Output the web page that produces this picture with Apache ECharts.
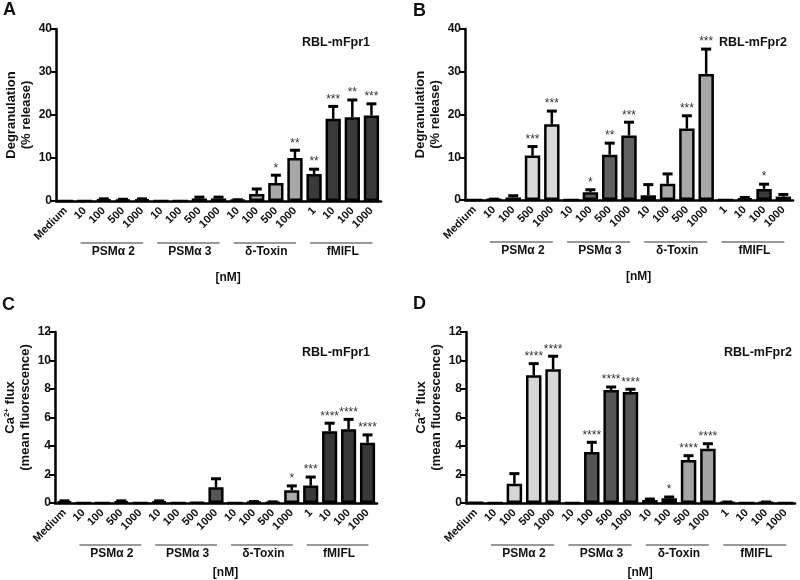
<!DOCTYPE html>
<html>
<head>
<meta charset="utf-8">
<script src="https://cdn.jsdelivr.net/npm/echarts@6/dist/echarts.min.js"></script>
<style>
  html, body { margin: 0; padding: 0; background: #fff; }
  #main { width: 800px; height: 580px; }
</style>
</head>
<body>
<div id="main"></div>
<script>
const categories = ['Medium', '10', '100', '500', '1000', '10', '100', '500', '1000',
  '10', '100', '500', '1000', '1', '10', '100', '1000'];
const groups = ['PSMα 2', 'PSMα 3', 'δ-Toxin', 'fMIFL'];
const groupStart = [1, 5, 9, 13];
// group index of each category (0 = medium)
const catGroup = [0, 1, 1, 1, 1, 2, 2, 2, 2, 3, 3, 3, 3, 4, 4, 4, 4];

// A: degranulation, RBL-mFpr1
const degranFpr1 = [0, 0, 0.3, 0.2, 0.3, 0, 0, 0.6, 0.6, 0.2, 1.6, 4.2, 10.0, 6.3, 19.1, 19.5, 19.9];
const degranFpr1Err = [0, 0, 0.2, 0.2, 0.2, 0, 0, 0.3, 0.3, 0.1, 1.2, 1.8, 1.8, 1.1, 2.9, 4.0, 2.7];
const degranFpr1Sig = ['', '', '', '', '', '', '', '', '', '', '', '*', '**', '**', '***', '**', '***'];

// B: degranulation, RBL-mFpr2
const degranFpr2 = [0, 0.1, 0.6, 10.4, 17.7, 0, 1.8, 10.6, 15.1, 1.1, 3.8, 16.7, 29.5, 0, 0.3, 2.6, 0.8];
const degranFpr2Err = [0, 0.1, 0.4, 2.1, 3.1, 0, 0.6, 2.7, 3.1, 2.5, 2.3, 3.0, 5.8, 0, 0.3, 1.1, 0.5];
const degranFpr2Sig = ['', '', '', '***', '***', '', '*', '**', '***', '', '', '***', '***', '', '', '*', ''];

// C: Ca2+ flux, RBL-mFpr1
const caFpr1 = [0.1, 0, 0, 0.1, 0, 0.1, 0, 0.05, 1.1, 0, 0.07, 0.05, 0.9, 1.22, 5.03, 5.17, 4.23];
const caFpr1Err = [0.05, 0, 0, 0.05, 0, 0.05, 0, 0, 0.6, 0, 0.03, 0.03, 0.3, 0.6, 0.57, 0.7, 0.55];
const caFpr1Sig = ['', '', '', '', '', '', '', '', '', '', '', '', '*', '***', '****', '****', '****'];

// D: Ca2+ flux, RBL-mFpr2
const caFpr2 = [0.03, 0, 1.35, 8.96, 9.38, 0, 3.58, 7.93, 7.79, 0.21, 0.33, 3.02, 3.81, 0.05, 0, 0.05, 0];
const caFpr2Err = [0, 0, 0.71, 0.82, 0.92, 0, 0.68, 0.21, 0.19, 0.07, 0.09, 0.3, 0.35, 0.02, 0, 0.02, 0];
const caFpr2Sig = ['', '', '', '****', '****', '', '****', '****', '****', '', '*', '****', '****', '', '', '', ''];

const fontFam = '"Liberation Sans", Arial, sans-serif';

const panels = [
  { letter: 'A', cell: 'RBL-mFpr1', mean: degranFpr1, err: degranFpr1Err, sig: degranFpr1Sig,
    yMax: 40, yStep: 10, yName: 'Degranulation\n(% release)', nameShift: 0, unitGap: 77,
    colors: ['#222', '#2a2a2a', '#2a2a2a', '#a8a8a8', '#3a3a3a'],
    grid: { left: 56, top: 29, width: 325, height: 172 },
    letterPos: { left: 3, top: 1 }, cellPos: { right: 430, top: 36 } },
  { letter: 'B', cell: 'RBL-mFpr2', mean: degranFpr2, err: degranFpr2Err, sig: degranFpr2Sig,
    yMax: 40, yStep: 10, yName: 'Degranulation\n(% release)', nameShift: 0, unitGap: 77,
    colors: ['#222', '#d8d8d8', '#606060', '#a8a8a8', '#3a3a3a'],
    grid: { left: 465, top: 29, width: 328, height: 171 },
    letterPos: { left: 413, top: 2 }, cellPos: { right: 13, top: 36 } },
  { letter: 'C', cell: 'RBL-mFpr1', mean: caFpr1, err: caFpr1Err, sig: caFpr1Sig,
    yMax: 12, yStep: 2, yName: 'Ca{sup|2+} flux\n(mean fluorescence)', nameShift: 20, unitGap: 70,
    colors: ['#222', '#2a2a2a', '#555', '#aaa', '#383838'],
    grid: { left: 55, top: 332, width: 322, height: 171 },
    letterPos: { left: 2, top: 296 }, cellPos: { right: 430, top: 346 } },
  { letter: 'D', cell: 'RBL-mFpr2', mean: caFpr2, err: caFpr2Err, sig: caFpr2Sig,
    yMax: 12, yStep: 2, yName: 'Ca{sup|2+} flux\n(mean fluorescence)', nameShift: 20, unitGap: 70,
    colors: ['#222', '#d6d6d6', '#555', '#a4a4a4', '#333'],
    grid: { left: 466, top: 332, width: 329, height: 171 },
    letterPos: { left: 413, top: 295 }, cellPos: { right: 8, top: 346 } }
];

const titles = [];
const gridList = [];
const xAxes = [];
const yAxes = [];
const series = [];

panels.forEach(function (p, k) {
  titles.push({ text: p.letter, left: p.letterPos.left, top: p.letterPos.top, padding: 0,
    textStyle: { fontSize: 18, fontWeight: 'bold', color: '#111', fontFamily: fontFam } });
  titles.push({ text: p.cell, right: p.cellPos.right, top: p.cellPos.top, padding: 0,
    textStyle: { fontSize: 12.5, fontWeight: 'bold', color: '#111', fontFamily: fontFam } });

  gridList.push(p.grid);

  xAxes.push({
    type: 'category', gridIndex: k, data: categories,
    axisLine: { lineStyle: { color: '#000', width: 2.5 } },
    axisTick: { alignWithLabel: true, interval: 0, length: 6, lineStyle: { color: '#000', width: 2 } },
    axisLabel: { interval: 0, rotate: 45, margin: 8, fontSize: 11, fontWeight: 'bold',
      color: '#111', fontFamily: fontFam }
  });

  yAxes.push({
    type: 'value', gridIndex: k, min: 0, max: p.yMax, interval: p.yStep,
    name: p.yName, nameLocation: 'middle', nameGap: 22, nameRotate: 90,
    nameTextStyle: { fontSize: 13, fontWeight: 'bold', color: '#111', fontFamily: fontFam, lineHeight: 15,
      padding: [0, 0, 0, p.nameShift],
      rich: { sup: { fontSize: 8, fontWeight: 'bold', color: '#111', fontFamily: fontFam,
        verticalAlign: 'top', lineHeight: 15, padding: [0, 0, 5, 0] } } },
    splitLine: { show: false },
    axisLine: { show: true, lineStyle: { color: '#000', width: 2.5 } },
    axisTick: { show: true, length: 6, lineStyle: { color: '#000', width: 2 } },
    axisLabel: { margin: 4, fontSize: 12, fontWeight: 'bold', color: '#111', fontFamily: fontFam }
  });

  series.push({
    type: 'bar', xAxisIndex: k, yAxisIndex: k, barWidth: '80%',
    data: p.mean.map(function (v, i) {
      return { value: v, itemStyle: { color: p.colors[catGroup[i]] } };
    }),
    itemStyle: { borderColor: '#000', borderWidth: 2.5 }
  });

  // error bars (upper only) with significance stars
  series.push({
    type: 'custom', xAxisIndex: k, yAxisIndex: k, z: 3,
    encode: { x: 0, y: 1 },
    data: p.mean.map(function (v, i) { return [i, v + p.err[i]]; }),
    renderItem: function (params, api) {
      const i = params.dataIndex;
      const base = api.coord([i, p.mean[i]]);
      const top = api.coord([i, p.mean[i] + p.err[i]]);
      const children = [];
      if (p.err[i] > 0) {
        children.push({ type: 'line', shape: { x1: base[0], y1: base[1], x2: top[0], y2: top[1] },
          style: { stroke: '#000', lineWidth: 2.5 } });
        children.push({ type: 'line', shape: { x1: top[0] - 5, y1: top[1], x2: top[0] + 5, y2: top[1] },
          style: { stroke: '#000', lineWidth: 3 } });
      }
      if (p.sig[i]) {
        children.push({ type: 'text', style: { text: p.sig[i], x: top[0], y: top[1] - 1,
          align: 'center', verticalAlign: 'bottom', fontSize: 12, fill: '#333', fontFamily: fontFam } });
      }
      return { type: 'group', children: children };
    }
  });

  // treatment group lines and names under the axis
  series.push({
    type: 'custom', xAxisIndex: k, yAxisIndex: k, silent: true,
    encode: { x: 0, y: 1 },
    data: groupStart.map(function (s) { return [s, 0]; }),
    renderItem: function (params, api) {
      const a = api.coord([api.value(0), 0]);
      const b = api.coord([api.value(0) + 3, 0]);
      const y = a[1] + 42;
      return { type: 'group', children: [
        { type: 'line', shape: { x1: a[0] - 4, y1: y, x2: b[0] + 1, y2: y },
          style: { stroke: '#777', lineWidth: 1.5 } },
        { type: 'text', style: { text: groups[params.dataIndex], x: (a[0] + b[0]) / 2, y: y + 9,
          align: 'center', verticalAlign: 'middle', fontSize: 12, fontWeight: 'bold', fill: '#111', fontFamily: fontFam } }
      ] };
    }
  });

  // unit label
  series.push({
    type: 'custom', xAxisIndex: k, yAxisIndex: k, silent: true,
    encode: { x: 0, y: 1 },
    data: [[1, 0]],
    renderItem: function (params, api) {
      const a = api.coord([1, 0]);
      const b = api.coord([16, 0]);
      return { type: 'text', style: { text: '[nM]', x: (a[0] + b[0]) / 2, y: a[1] + p.unitGap,
        align: 'center', verticalAlign: 'middle', fontSize: 12, fontWeight: 'bold', fill: '#111', fontFamily: fontFam } };
    }
  });
});

const chart = echarts.init(document.getElementById('main'), null, { renderer: 'canvas' });
chart.setOption({
  animation: false,
  backgroundColor: '#fff',
  textStyle: { fontFamily: fontFam },
  title: titles,
  grid: gridList,
  xAxis: xAxes,
  yAxis: yAxes,
  series: series
});
</script>
</body>
</html>
